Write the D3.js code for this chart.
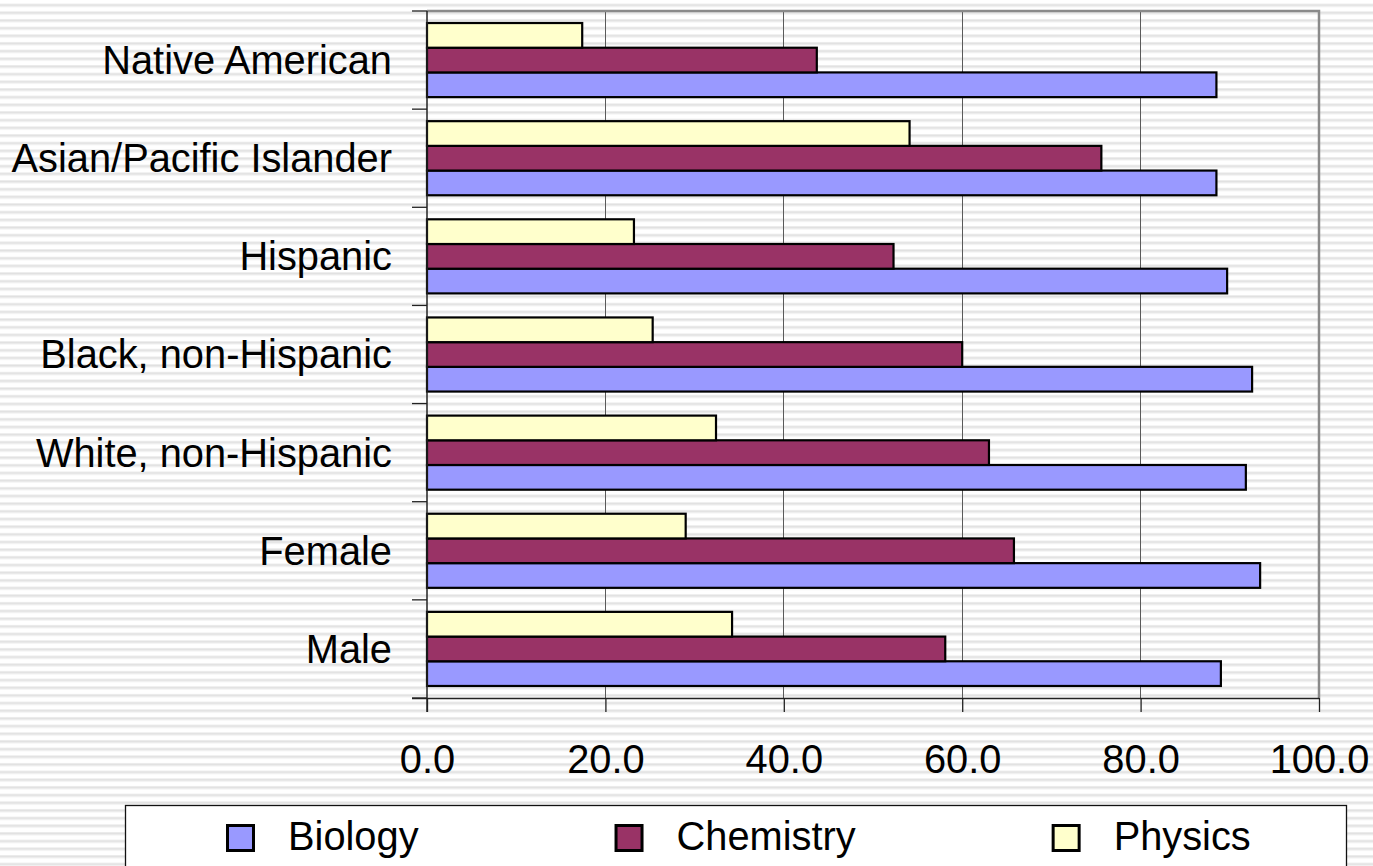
<!DOCTYPE html>
<html>
<head>
<meta charset="utf-8">
<script src="https://cdn.jsdelivr.net/npm/d3@7"></script>
<style>
  html, body { margin: 0; padding: 0; background: #fff; }
  svg { display: block; }
  text { font-family: "Liberation Sans", Arial, sans-serif; fill: #000; }
</style>
</head>
<body>
<svg id="chart" width="1373" height="866"></svg>
<script>
// ---- data ----
const categories = ["Native American", "Asian/Pacific Islander", "Hispanic",
  "Black, non-Hispanic", "White, non-Hispanic", "Female", "Male"];
const seriesNames = ["Biology", "Chemistry", "Physics"];
const biology   = [88.5, 88.5, 89.7, 92.5, 91.8, 93.4, 89.0];
const chemistry = [43.7, 75.6, 52.3, 60.0, 63.0, 65.8, 58.1];
const physics   = [17.4, 54.1, 23.2, 25.3, 32.4, 29.0, 34.2];
const xTicks = [0, 20, 40, 60, 80, 100];
const seriesColors = ["#9999FF", "#993366", "#FFFFCC"];

const seriesValues = [biology, chemistry, physics];

// ---- layout ----
const svg = d3.select("#chart");
const W = 1373, H = 866;
const plot = { left: 427, right: 1319, top: 11, bottom: 698 };
const FS = 39.8;

// striped background
const defs = svg.append("defs");
const pat = defs.append("pattern")
  .attr("id", "stripes")
  .attr("patternUnits", "userSpaceOnUse")
  .attr("x", 0).attr("y", 3.6)
  .attr("width", 20).attr("height", 7.67);
pat.append("rect").attr("width", 20).attr("height", 7.67).attr("fill", "#ffffff");
pat.append("rect").attr("y", 0).attr("width", 20).attr("height", 1).attr("fill", "#ececec");
pat.append("rect").attr("y", 1).attr("width", 20).attr("height", 1.6).attr("fill", "#e0e0e0");
pat.append("rect").attr("y", 2.6).attr("width", 20).attr("height", 0.8).attr("fill", "#efefef");
svg.append("rect").attr("width", W).attr("height", H).attr("fill", "url(#stripes)");

// scales
const x = d3.scaleLinear().domain([0, 100]).range([plot.left, plot.right]);
const y = d3.scaleBand().domain(categories)
  .range([plot.top, plot.bottom])
  .paddingInner(0.245).paddingOuter(0.1225);
// within a group: Physics on top, then Chemistry, then Biology
const ySub = d3.scaleBand().domain(["Physics", "Chemistry", "Biology"])
  .range([0, y.bandwidth()]);

// gridlines
const grid = svg.append("g");
grid.selectAll("line").data(xTicks.filter(t => t > 0 && t < 100)).enter().append("line")
  .attr("x1", d => x(d)).attr("x2", d => x(d))
  .attr("y1", plot.top).attr("y2", plot.bottom)
  .attr("stroke", "#5a5a5a").attr("stroke-width", 1)
  .attr("shape-rendering", "crispEdges");

// plot border (top & right)
svg.append("path")
  .attr("d", `M${plot.left},${plot.top}H${plot.right}V${plot.bottom}`)
  .attr("fill", "none").attr("stroke", "#8a8a8a").attr("stroke-width", 2.5);

// bars
const groups = svg.append("g").selectAll("g").data(categories).enter().append("g")
  .attr("transform", d => `translate(0,${y(d)})`);
seriesNames.forEach((s, si) => {
  groups.append("rect")
    .attr("x", x(0))
    .attr("y", (d) => ySub(s))
    .attr("width", (d, i) => x(seriesValues[si][i]) - x(0))
    .attr("height", ySub.bandwidth())
    .attr("fill", seriesColors[si])
    .attr("stroke", "#000").attr("stroke-width", 2.2);
});

// x axis
const xAxis = d3.axisBottom(x).tickValues(xTicks).tickSize(14).tickPadding(33)
  .tickFormat(d3.format(".1f"));
const gx = svg.append("g").attr("transform", `translate(0,${plot.bottom})`).call(xAxis);
gx.select(".domain").attr("stroke", "#222").attr("stroke-width", 1.5)
  .attr("d", `M${plot.left - 15},0.5H${plot.right}`);
gx.selectAll(".tick line").attr("stroke", "#222").attr("stroke-width", 1.3);
gx.selectAll(".tick text")
  .style("font-family", "'Liberation Sans', Arial, sans-serif")
  .attr("font-size", FS).attr("fill", "#000");

// y axis line and boundary ticks
svg.append("line")
  .attr("x1", plot.left).attr("x2", plot.left)
  .attr("y1", plot.top).attr("y2", plot.bottom + 14)
  .attr("stroke", "#222").attr("stroke-width", 1.5);
const boundaries = categories.map(c => y(c) - y.step() * y.paddingInner() / 2)
  .concat([plot.bottom]);
svg.append("g").selectAll("line").data(boundaries).enter().append("line")
  .attr("x1", plot.left - 15).attr("x2", plot.left)
  .attr("y1", d => d).attr("y2", d => d)
  .attr("stroke", "#222").attr("stroke-width", 1.3);

// category labels
svg.append("g").selectAll("text").data(categories).enter().append("text")
  .attr("x", 392)
  .attr("y", d => y(d) + y.bandwidth() / 2)
  .attr("dy", "0.35em")
  .attr("text-anchor", "end")
  .attr("font-size", FS)
  .text(d => d);

// legend
const legend = svg.append("g");
legend.append("rect")
  .attr("x", 125.5).attr("y", 805.5).attr("width", 1221).attr("height", 100)
  .attr("fill", "#fff").attr("stroke", "#111").attr("stroke-width", 1.3);
let lx = 226;
seriesNames.forEach((s, si) => {
  legend.append("rect")
    .attr("x", lx + 1.5).attr("y", 825.5).attr("width", 26).attr("height", 25)
    .attr("fill", seriesColors[si]).attr("stroke", "#000").attr("stroke-width", 3);
  const t = legend.append("text")
    .attr("x", lx + 62).attr("y", 850)
    .attr("font-size", FS)
    .text(s);
  const w = t.node().getComputedTextLength();
  lx = lx + 62 + w + 196;
});
</script>
</body>
</html>
